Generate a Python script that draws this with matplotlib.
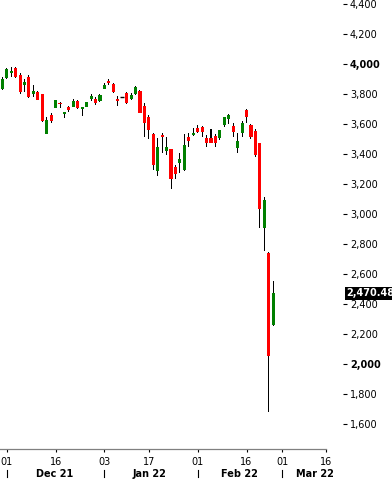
import numpy as np
import matplotlib
matplotlib.use('Agg')
import matplotlib.pyplot as plt
from matplotlib.transforms import blended_transform_factory

# daily OHLC, trading sessions 30 Nov 2021 .. 25 Feb 2022
opens = [3831, 3909, 3942, 3971, 3927, 3860, 3915, 3800, 3811, 3798,
         3535, 3660, 3709, 3738, 3664, 3713, 3711, 3753, 3702, 3715,
         3767, 3767, 3755, 3831, 3887, 3867, 3767, 3778, 3804, 3767,
         3800, 3822, 3718, 3644, 3535, 3287, 3527, 3420, 3431, 3316,
         3342, 3293, 3511, 3529, 3576, 3578, 3504, 3504, 3522, 3504,
         3593, 3631, 3587, 3442, 3538, 3693, 3593, 3553, 3471, 2909,
         2740, 2260]
highs = [3911, 3971, 3978, 3978, 3938, 3898, 3927, 3860, 3820, 3802,
         3649, 3671, 3760, 3749, 3682, 3720, 3764, 3760, 3713, 3747,
         3800, 3782, 3800, 3871, 3900, 3876, 3787, 3778, 3811, 3804,
         3853, 3827, 3738, 3660, 3542, 3505, 3542, 3511, 3431, 3327,
         3409, 3531, 3542, 3571, 3593, 3587, 3527, 3564, 3531, 3560,
         3647, 3667, 3609, 3538, 3622, 3700, 3600, 3564, 3475, 3116,
         2747, 2553]
lows = [3825, 3902, 3915, 3907, 3802, 3815, 3771, 3778, 3758, 3615,
        3535, 3609, 3705, 3705, 3638, 3682, 3711, 3698, 3655, 3715,
        3753, 3729, 3745, 3831, 3860, 3809, 3722, 3778, 3731, 3760,
        3791, 3671, 3515, 3500, 3293, 3253, 3409, 3393, 3164, 3231,
        3275, 3289, 3449, 3522, 3538, 3516, 3449, 3471, 3444, 3493,
        3582, 3598, 3516, 3409, 3516, 3609, 3500, 3378, 2909, 2753,
        1680, 2255]
closes = [3900, 3965, 3955, 3915, 3815, 3882, 3777, 3820, 3762, 3620,
          3625, 3622, 3760, 3731, 3678, 3695, 3755, 3709, 3711, 3747,
          3789, 3742, 3793, 3862, 3876, 3815, 3756, 3778, 3740, 3793,
          3844, 3675, 3604, 3560, 3327, 3447, 3516, 3444, 3235, 3265,
          3367, 3458, 3489, 3542, 3549, 3549, 3476, 3476, 3476, 3560,
          3644, 3660, 3549, 3487, 3609, 3649, 3516, 3393, 3033, 3093,
          2053, 2470.48]

# session index of the date ticks
day_ticks = [1, 12, 23, 33, 44, 55, 63, 73]
day_labels = ['01', '16', '03', '17', '01', '16', '01', '16']
month_starts = [1, 23, 44, 63]
month_labels = ['Dec 21', 'Jan 22', 'Feb 22', 'Mar 22']
month_centers = [11.7, 33.2, 53.5, 70.5]

last_price = closes[-1]


def main():
    fig = plt.figure(figsize=(3.92, 4.79), dpi=100)
    ax = fig.add_axes([0, 30 / 479, 343 / 392, 449 / 479])

    o = np.array(opens, dtype=float)
    h = np.array(highs, dtype=float)
    l = np.array(lows, dtype=float)
    c = np.array(closes, dtype=float)
    x = np.arange(len(o))

    # wicks as thin bars so they stay crisp
    ax.bar(x, h - l, bottom=l, width=0.23, color='black', lw=0, zorder=2)
    up = c > o
    down = c < o
    flat = c == o
    ax.bar(x[up], (c - o)[up], bottom=o[up], width=0.7, color='#008000',
           lw=0, zorder=3)
    ax.bar(x[down], (o - c)[down], bottom=c[down], width=0.7, color='#ff0000',
           lw=0, zorder=3)
    ax.hlines(c[flat], x[flat] - 0.45, x[flat] + 0.45, color='black', lw=1.0,
              zorder=3)

    ax.set_xlim(-0.518, 76.73)
    ax.set_ylim(1433.3, 4426.7)

    for s in ['top', 'left', 'right']:
        ax.spines[s].set_visible(False)
    ax.spines['bottom'].set_color('#808080')
    ax.spines['bottom'].set_linewidth(0.9)
    ax.spines['bottom'].set_bounds(-0.518, 73)

    # right price axis
    ax.yaxis.tick_right()
    yt = np.arange(1600, 4401, 200)
    ax.set_yticks(yt)
    ax.set_yticklabels(['{:,}'.format(v) for v in yt])
    ax.tick_params(axis='y', direction='out', length=3, width=0.8, color='black',
                   pad=2, labelsize=7)
    for lab, v in zip(ax.get_yticklabels(), yt):
        if v in (2000, 4000):
            lab.set_fontweight('bold')

    # date axis
    ax.set_xticks(day_ticks)
    ax.set_xticklabels(day_labels)
    ax.tick_params(axis='x', direction='out', length=2.5, width=0.8, color='black',
                   pad=3, labelsize=7)

    tr = blended_transform_factory(ax.transData, ax.transAxes)
    for m in month_starts:
        ax.plot([m, m], [-0.047, -0.063], color='black', lw=0.8,
                transform=tr, clip_on=False)
    for xc, lab in zip(month_centers, month_labels):
        ax.text(xc, -0.055, lab, transform=tr, ha='center', va='center',
                fontsize=7, fontweight='bold')

    # last price marker
    ax.annotate('{:,.2f}'.format(last_price), xy=(1.0, last_price),
                xycoords=('axes fraction', 'data'), xytext=(3, 0),
                textcoords='offset pixels', ha='left', va='center',
                fontsize=7, fontweight='bold', color='white',
                bbox=dict(boxstyle='square,pad=0.12', fc='black', ec='none'),
                annotation_clip=False, zorder=5)

    fig.savefig('out.png', dpi=100)


if __name__ == "__main__":
    main()
